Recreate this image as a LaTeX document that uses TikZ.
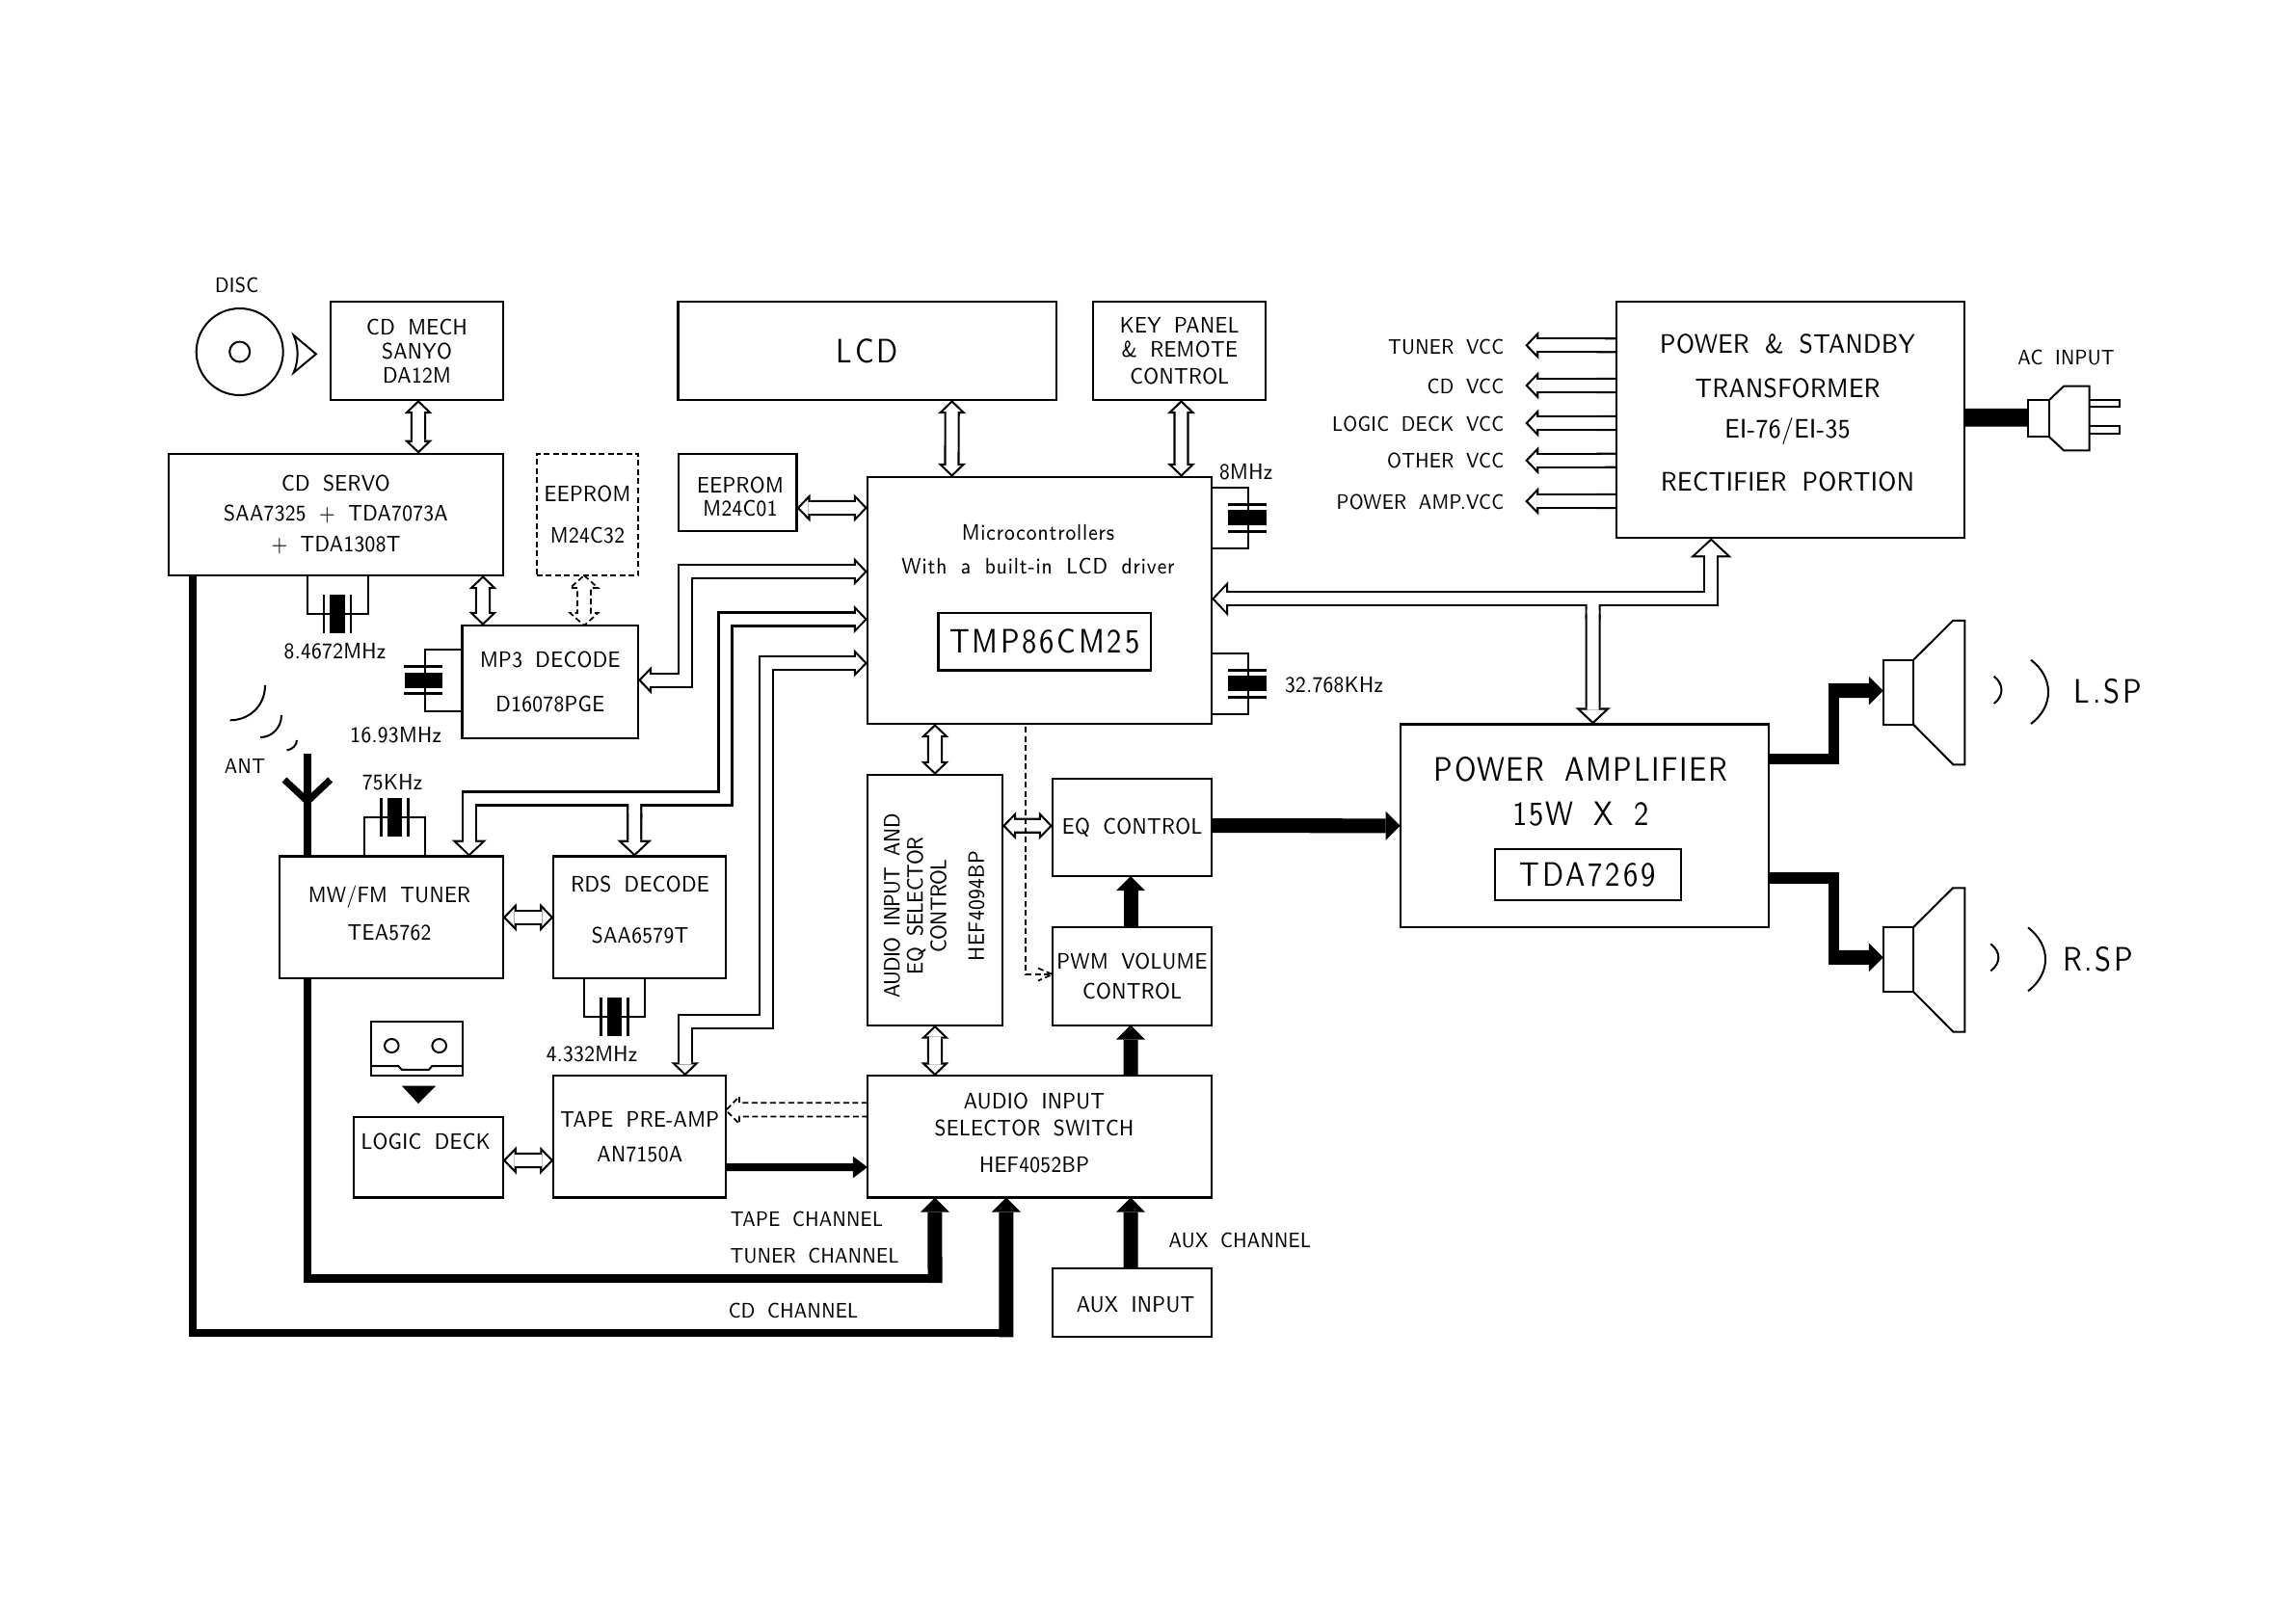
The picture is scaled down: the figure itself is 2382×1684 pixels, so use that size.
\documentclass[tikz,border=0pt]{standalone}
\usepackage{fontspec}
\setmainfont{Latin Modern Sans}[FakeStretch=.87,LetterSpace=1.5,WordSpace=1.8]
\usetikzlibrary{arrows.meta,backgrounds}

\newcommand{\smalltxt}{\fontsize{6.6}{6.6}\selectfont}
\newcommand{\labeltxt}{\fontsize{6.2}{6.6}\selectfont}
\newcommand{\midtxt}{\fontsize{7.9}{7.9}\selectfont}
\newcommand{\amptxtfont}{\fontsize{10}{10}\selectfont\addfontfeatures{LetterSpace=4.5}}
\newcommand{\bigtxt}{\fontsize{10}{10}\selectfont\addfontfeatures{LetterSpace=8}}
\newcommand{\widetxt}[1]{{\addfontfeatures{LetterSpace=4}#1}}
\newcommand{\tighttxt}[1]{{\addfontfeatures{LetterSpace=-3}#1}}

\tikzset{
  block/.style 2 args={draw,line width=.22mm,inner sep=0pt,outer sep=0pt,align=center,
    font=\smalltxt,minimum width=#1cm,minimum height=#2cm},
  txt/.style={inner sep=0pt,align=center,font=\smalltxt},
  tag/.style={inner sep=0pt,align=center,font=\labeltxt},
  wire/.style={line width=.2mm},
  dashwire/.style={line width=.17mm,dash pattern=on .6mm off .35mm},
  xbody/.style={fill=black,inner sep=0pt,outer sep=0pt},
  plate/.style={line width=.27mm},
  feed/.style={line width=.85mm},
  powerflow/.style={line width=1.5mm,-{Triangle[length=1.5mm,width=3mm,line width=0pt]}},
  tapeflow/.style={line width=.8mm,-{Triangle[length=1.5mm,width=2.27mm,line width=0pt]}},
  busout/.style={draw=black,line width=1.62mm},
  busin/.style={draw=white,line width=1.18mm,shorten >=.305mm},
  outn/.tip={Butt Cap},
  inn/.tip={Butt Cap},
  outs/.tip={Triangle[length=1.4mm,width=2.9mm,line width=0pt]},
  ins/.tip={Triangle[length=.875mm,width=1.81mm,line width=0pt]},
  outm/.tip={Triangle[length=1.7mm,width=3.6mm,line width=0pt]},
  inm/.tip={Triangle[length=1.175mm,width=2.49mm,line width=0pt]},
  outl/.tip={Triangle[length=2mm,width=4.3mm,line width=0pt]},
  inl/.tip={Triangle[length=1.475mm,width=3.17mm,line width=0pt]},
}

% hollow bus: black wide line, then white line inside it
\newcommand{\businner}[3]{%
  \begin{scope}
    \if n#1\else\tikzset{shorten <=.305mm}\fi
    \draw[busin,arrows={in#1-in#2}] #3;
  \end{scope}}
\newcommand{\busarrow}[3]{%
  \draw[busout,arrows={out#1-out#2}] #3;
  \businner{#1}{#2}{#3}}

% crystals, body named #1
\newcommand{\xtalh}[2]{%
  \node[xbody,minimum width=.155cm,minimum height=.4cm] (#1) at (#2) {};
  \draw[plate] (#1.center) ++(-14,-20) -- ++(0,40) ++(28,0) -- ++(0,-40);}
\newcommand{\xtalv}[2]{%
  \node[xbody,minimum width=.394cm,minimum height=.16cm] (#1) at (#2) {};
  \draw[plate] (#1.center) ++(-20,-14) -- ++(40,0) ++(0,28) -- ++(-40,0);}

% speaker: magnet box named #1 and cone
\newcommand{\speaker}[2]{%
  \node[block={.313}{.67}] (#1) at (#2) {};
  \draw[wire] (#1.north east) -- ++(41,-40.7) -- ++(12.3,0) -- ++(0,149.3) -- ++(-12,0) -- (#1.south east);}

\begin{document}
\begin{tikzpicture}[x=.01cm,y=-.01cm]
\useasboundingbox (0,0) rectangle (2382,1684);

% blocks, left part
\node[block={1.79}{1.023}] (mech) at (432.5,363.85) {CD MECH\\[.18mm]SANYO\\[.18mm]DA12M};
\node[block={3.47}{1.263}] (servo) at (348.5,533.85) {CD SERVO\\[.85mm]SAA7325 + TDA7073A\\[.85mm]+ TDA1308T};
\node[block={1.05}{1.263},dashwire] (eepdash) at (609.5,533.85) {EEPROM\\[1.9mm]M24C32};
\node[block={1.824}{1.17}] (mp3) at (570.8,707.5) {MP3 DECODE\\[2.3mm]D16078PGE};
\node[block={2.317}{1.264}] (tuner) at (405.85,951.8) {};
\node[txt] (tunertxt) at (404,947.5) {MW/FM TUNER\\[1.6mm]TEA5762};
\node[block={1.79}{1.264}] (rds) at (663.8,951.8) {};
\node[txt] (rdstxt) at (664,944) {RDS DECODE\\[2.9mm]SAA6579T};
\node[block={1.544}{.836}] (logic) at (444.5,1200.6) {};
\node[txt] (logictxt) at (441.7,1184.5) {LOGIC DECK};
\node[block={1.79}{1.261}] (tape) at (663.8,1179.35) {TAPE PRE-AMP\\[1.3mm]AN7150A};

% blocks, middle part
\node[block={3.923}{1.023},font=\bigtxt] (lcd) at (899.85,363.85) {LCD};
\node[block={1.786}{1.023}] (key) at (1223.7,363.85) {KEY PANEL\\[.2mm]\& REMOTE\\[.45mm]CONTROL};
\node[block={1.228}{.8}] (eep) at (765.1,511) {};
\node[txt] (eeptxt) at (768,515.5) {EEPROM\\[.1mm]M24C01};
\node[block={3.57}{2.56}] (micro) at (1078.5,623) {};
\node[txt] (microtxt) at (1077,570) {\widetxt{Microcontrollers}\\[1.1mm]\widetxt{With a built-in LCD driver}};
\node[block={2.205}{.597},font=\bigtxt] (tmp) at (1083.75,665.55) {TMP86CM25};
\node[block={1.4}{2.596}] (audio) at (970,933.8) {};
\node[txt,rotate=90] (audiotxt) at (969,940) {\tighttxt{AUDIO INPUT AND}\\[.1mm]\tighttxt{EQ SELECTOR}\\[.1mm]\tighttxt{CONTROL}\\[1.6mm]HEF4094BP};
\node[block={1.65}{1.01}] (eq) at (1174.5,858.5) {EQ CONTROL};
\node[block={1.65}{1.016}] (pwm) at (1174.5,1012.8) {PWM VOLUME\\[.8mm]CONTROL};
\node[block={3.57}{1.261}] (sel) at (1078.5,1179.45) {};
\node[txt] (seltxt) at (1073,1175.5) {AUDIO INPUT\\[.5mm]SELECTOR SWITCH\\[1.5mm]HEF4052BP};
\node[block={1.65}{.707}] (aux) at (1174.5,1351.35) {};
\node[txt] (auxtxt) at (1178,1354) {AUX INPUT};

% blocks, right part
\node[block={3.613}{2.456}] (power) at (1857.35,435.5) {};
\node[txt,font=\midtxt] (powertxt) at (1854.5,428.5) {POWER \& STANDBY\\[1.8mm]TRANSFORMER\\[1.4mm]EI-76/EI-35\\[2.8mm]RECTIFIER PORTION};
\node[block={3.823}{2.105}] (amp) at (1643.85,856.75) {};
\node[txt,font=\amptxtfont] (amptxt) at (1640,821.3) {POWER AMPLIFIER\\[1.1mm]15W X 2};
\node[block={1.93}{.53},font=\bigtxt] (tda) at (1647.2,907.5) {TDA7269};
\speaker{lspk}{1969.4,718.2}
\speaker{rspk}{1969.4,995.5}
\node[block={.22}{.383}] (plug) at (2115,434.15) {};

% free labels
\node[tag] (disctxt) at (245.7,296) {DISC};
\node[tag] (anttxt) at (254,794.5) {ANT};
\node[txt] (f1) at (347.5,676) {8.4672MHz};
\node[txt] (f2) at (410.7,763) {16.93MHz};
\node[txt] (f3) at (407,812) {75KHz};
\node[txt] (f4) at (614,1093.5) {4.332MHz};
\node[txt] (f5) at (1292.6,490) {8MHz};
\node[txt] (f6) at (1384,710.7) {32.768KHz};
\node[tag] (tapech) at (837,1265) {TAPE CHANNEL};
\node[tag] (tunerch) at (845,1303) {TUNER CHANNEL};
\node[tag] (cdch) at (823,1360) {CD CHANNEL};
\node[tag] (auxch) at (1286.4,1286.7) {AUX CHANNEL};
\node[tag,anchor=east] (vcca) at (1561,360) {TUNER VCC};
\node[tag,anchor=east] (vccb) at (1561,401) {CD VCC};
\node[tag,anchor=east] (vccc) at (1561,440) {LOGIC DECK VCC};
\node[tag,anchor=east] (vccd) at (1561,478) {OTHER VCC};
\node[tag,anchor=east] (vcce) at (1561,520.7) {POWER AMP.VCC};
\node[tag] (actxt) at (2143.5,370.7) {AC INPUT};
\node[txt,font=\bigtxt] (lsptxt) at (2186.7,717.7) {L.SP};
\node[txt,font=\bigtxt] (rsptxt) at (2176.7,995.7) {R.SP};

% crystals
\xtalh{xservo}{350,637}
\xtalv{xmp}{439.3,705.8}
\xtalh{xtuner}{409.3,848.3}
\xtalh{xrds}{637.5,1055.3}
\xtalv{xeight}{1293.8,537.2}
\xtalv{xclock}{1293.8,709.3}
\coordinate (rdstap) at (658.3,828.5);
\coordinate (amptap) at (1652.6,621.6);
\coordinate (tunerjoin) at (970,1331);
\coordinate (cdjoin) at (1043.9,1387.3);
\coordinate (ljoin) at (1897,716.7);
\coordinate (rjoin) at (1897,993.3);

\begin{scope}[on background layer]
% crystal leads
\draw[wire] (xservo.west) -| ([xshift=-.295cm]servo.south);
\draw[wire] (xservo.east) -| ([xshift=.335cm]servo.south);
\draw[wire] ([xshift=.021cm]xmp.north) |- ([yshift=.335cm]mp3.west);
\draw[wire] ([xshift=.021cm]xmp.south) |- ([yshift=-.302cm]mp3.west);
\draw[wire] (xtuner.west) -| ([xshift=-.2815cm]tuner.north);
\draw[wire] (xtuner.east) -| ([xshift=.3515cm]tuner.north);
\draw[wire] (xrds.west) -| ([xshift=-.578cm]rds.south);
\draw[wire] (xrds.east) -| ([xshift=.049cm]rds.south);
\draw[wire] ([xshift=.016cm]xeight.north) |- ([yshift=1.17cm]micro.east);
\draw[wire] ([xshift=.016cm]xeight.south) |- ([yshift=.543cm]micro.east);
\draw[wire] ([xshift=.016cm]xclock.north) |- ([yshift=-.547cm]micro.east);
\draw[wire] ([xshift=.016cm]xclock.south) |- ([yshift=-1.177cm]micro.east);

% two way links
\busarrow{s}{s}{([xshift=.015cm]mech.south) -- ([xshift=.855cm]servo.north)}
\busarrow{s}{s}{([xshift=.8775cm]lcd.south) -- ([xshift=-.909cm]micro.north)}
\busarrow{s}{s}{([xshift=.018cm]key.south) -- ([xshift=1.47cm]micro.north)}
\busarrow{s}{s}{([xshift=1.525cm]servo.south) -- ([xshift=-.698cm]mp3.north)}
\busarrow{s}{s}{([yshift=-.16cm]eep.east) -- ([yshift=.96cm]micro.west)}
\busarrow{s}{s}{(tuner.east) -- (rds.west)}
\busarrow{s}{s}{([yshift=-.034cm]logic.east) -- ([yshift=-.2465cm]tape.west)}
\busarrow{s}{s}{([xshift=-1.085cm]micro.south) -- (audio.north)}
\busarrow{s}{s}{(audio.south) -- ([xshift=-1.085cm]sel.north)}
\busarrow{s}{s}{([yshift=.77cm]audio.east) -- ([yshift=.017cm]eq.west)}

% buses to the microcontroller
\busarrow{s}{s}{([yshift=.3cm]micro.west) -- ++(-189.15,0) |- ([yshift=.018cm]mp3.east)}
\busarrow{s}{m}{([yshift=-.195cm]micro.west) -- ++(-147.5,0) -- ++(0,186) -| ([xshift=.8085cm]tuner.north)}
\busarrow{n}{m}{(rdstap) -- ([xshift=-.055cm]rds.north)}
\businner{s}{m}{([yshift=-.195cm]micro.west) -- ++(-147.5,0) -- ++(0,186) -| ([xshift=.8085cm]tuner.north)}
\busarrow{s}{s}{([yshift=-.65cm]micro.west) -- ++(-105.2,0) -- ++(0,372.15) -| ([xshift=.469cm]tape.north)}

% standby bus and power amplifier
\busarrow{m}{l}{([yshift=.017cm]micro.east) -| ([xshift=-.8215cm]power.south)}
\busarrow{n}{m}{(amptap) -- ([xshift=.0875cm]amp.north)}
\businner{m}{l}{([yshift=.017cm]micro.east) -| ([xshift=-.8215cm]power.south)}

% supply rails
\busarrow{n}{s}{([yshift=.772cm]power.west) -- ++(-94.3,0)}
\busarrow{n}{s}{([yshift=.355cm]power.west) -- ++(-94.3,0)}
\busarrow{n}{s}{([yshift=-.035cm]power.west) -- ++(-94.3,0)}
\busarrow{n}{s}{([yshift=-.422cm]power.west) -- ++(-94.3,0)}
\busarrow{n}{s}{([yshift=-.845cm]power.west) -- ++(-94.3,0)}

% audio paths
\draw[feed] ([xshift=-1.485cm]servo.south) |- ([yshift=.043cm]cdjoin);
\draw[powerflow] (cdjoin) -- ([xshift=-.346cm]sel.south);
\draw[feed] ([xshift=-.8685cm]tuner.south) |- ([yshift=.043cm]tunerjoin);
\draw[powerflow] (tunerjoin) -- ([xshift=-1.085cm]sel.south);
\draw[powerflow] ([xshift=-.015cm]aux.north) -- ([xshift=.945cm]sel.south);
\draw[powerflow] ([xshift=.945cm]sel.north) -- ([xshift=-.015cm]pwm.south);
\draw[powerflow] ([xshift=-.015cm]pwm.north) -- ([xshift=-.015cm]eq.south);
\draw[powerflow] ([yshift=.018cm]eq.east) -- (amp.west);
\draw[tapeflow] ([yshift=-.3165cm]tape.east) -- ([yshift=-.3155cm]sel.west);

% amplifier to speakers
\draw[line width=1.13mm] ([yshift=.69cm]amp.east) -| ([yshift=-.05cm,xshift=.057cm]ljoin);
\draw[powerflow] (ljoin) -- ([yshift=.015cm]lspk.west);
\draw[line width=1.13mm] ([yshift=-.5425cm]amp.east) -| ([yshift=.05cm,xshift=.057cm]rjoin);
\draw[powerflow] (rjoin) -- ([yshift=.022cm]rspk.west);

% mains cable
\draw[line width=1.87mm] ([yshift=.022cm]power.east) -- ([yshift=.0085cm]plug.west);

% antenna mast
\draw[feed] ([xshift=-.8685cm]tuner.north) -- ++(0,-106.2);
\end{scope}

% dashed control lines
\draw[dashwire] ([xshift=-.035cm]eepdash.south) -- ++(14.5,13) -- ++(-7.5,0) -- ++(0,26) -- ++(7.5,0) -- ++(-14.5,13) -- ++(-14.5,-13) -- ++(7.5,0) -- ++(0,-26) -- ++(-7.5,0) -- cycle;
\draw[dashwire] ([yshift=.352cm]sel.west) -- ++(-133,0) -- ++(0,-6.5) -- ++(-13.7,14.2) -- ++(13.7,14) -- ++(0,-7.4) -- ++(133,0);
\draw[dashwire] ([xshift=-.142cm,yshift=-.03cm]micro.south) |- ([yshift=.018cm]pwm.west);
\draw[dashwire] ([yshift=.018cm]pwm.west) ++(-15,-6.5) -- ++(15,6.5) -- ++(-15,6.5);

% disc and pickup mark
\draw[wire] (248.7,365) circle (45);
\draw[wire] (248.7,365) circle (10.5);
\draw[wire] (304.6,347.7) -- (327.9,367.3) -- (304.6,386.7) .. controls (310,374) and (310,360) .. cycle;

% antenna
\draw[line width=.7mm] (295,809) -- (319,831.4) -- (342.7,809);
\draw[wire] (275,711) .. controls (275,733) and (258,747.3) .. (238.6,747.3);
\draw[wire] (292,742) .. controls (292,755) and (282,765) .. (270,765);
\draw[wire] (308,768) .. controls (308,773) and (303,778) .. (297.5,778.3);

% cassette
\draw[wire] (385,1060.4) rectangle (480,1116.3);
\draw[wire] (406.3,1085) ellipse (7.3 and 7);
\draw[wire] (455.7,1085) ellipse (7.3 and 7);
\draw[wire] (385,1106) -- (413.3,1106) -- (416.7,1109.8) -- (445,1109.8) -- (448.3,1106) -- (480,1106);
\fill (416.7,1126.5) -- (452.3,1126.5) -- (434,1145) -- cycle;

% sound waves
\draw[wire] (2068.7,701.7) .. controls (2079,710) and (2079,722) .. (2068.7,730);
\draw[wire] (2107,684.7) .. controls (2131,703) and (2131,733) .. (2107,751);
\draw[wire] (2065.3,979.3) .. controls (2076,988) and (2076,999) .. (2065.3,1007.3);
\draw[wire] (2104,962.3) .. controls (2128,981) and (2128,1010) .. (2104,1028.3);

% mains plug
\draw[wire] (plug.north east) -- (2141,400.7) -- (2167.6,400.7) -- (2167.6,467.3) -- (2141,467.3) -- (plug.south east);
\draw[wire] (2167.6,415) -- (2199,415) -- (2199,421.7) -- (2167.6,421.7);
\draw[wire] (2167.6,442.3) -- (2199,442.3) -- (2199,450) -- (2167.6,450);

\end{tikzpicture}
\end{document}
